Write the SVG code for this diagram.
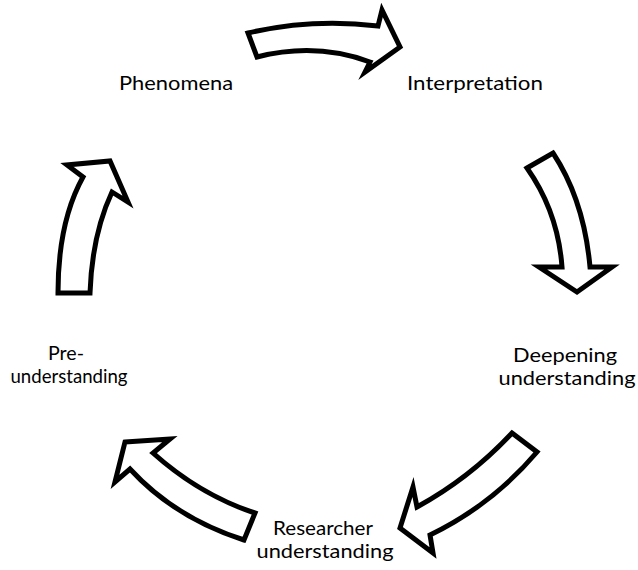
<svg xmlns="http://www.w3.org/2000/svg" width="638" height="570" viewBox="0 0 638 570">
  <style>
    .arrow { fill: #ffffff; stroke: #000000; stroke-width: 5; stroke-linejoin: miter; stroke-miterlimit: 10; }
    .label { font-family: Lato, "Open Sans", "Liberation Sans", sans-serif; font-size: 20px; fill: #000000; text-anchor: middle; }
  </style>
  <rect width="638" height="570" fill="#ffffff"/>

  <!-- curved block arrows forming the cycle -->
  <g id="connectors">
    <path id="arrow-top" class="arrow" d="M248,33 Q312,18 378,26 L382,10 L400,47 L365,72 L370,62 Q316,42 257,57 Z"/>
    <path id="arrow-right" class="arrow" d="M527,168 L553,153 Q584,200 590,267 L612,267 L577,292 L539,267 L562,267 Q558,212 527,168 Z"/>
    <path id="arrow-bottom-right" class="arrow" d="M512,433 L537,452 Q492,505 430,535 L433,553 L400,528 L413,487 L417,507 Q470,478 512,433 Z"/>
    <path id="arrow-bottom-left" class="arrow" d="M125,442 L170,439 L153,453 Q200,495 255,513 L244,540 Q175,518 130,469 L115,482 Z"/>
    <path id="arrow-left" class="arrow" d="M58,293 Q58,222 83,177 L67,165 L110,161 L128,202 L112,192 Q92,235 90,293 Z"/>
  </g>

  <g id="phenomena">
    <text class="label" x="176" y="90" textLength="114" lengthAdjust="spacingAndGlyphs">Phenomena</text>
  </g>
  <g id="interpretation">
    <text class="label" x="475" y="90" textLength="136" lengthAdjust="spacingAndGlyphs">Interpretation</text>
  </g>
  <g id="deepening-understanding">
    <text class="label" x="565" y="362" textLength="104" lengthAdjust="spacingAndGlyphs">Deepening</text>
    <text class="label" x="567" y="385" textLength="137" lengthAdjust="spacingAndGlyphs">understanding</text>
  </g>
  <g id="researcher-understanding">
    <text class="label" x="323" y="535" textLength="100" lengthAdjust="spacingAndGlyphs">Researcher</text>
    <text class="label" x="325" y="558" textLength="137" lengthAdjust="spacingAndGlyphs">understanding</text>
  </g>
  <g id="pre-understanding">
    <text class="label" x="66" y="360" textLength="36" lengthAdjust="spacingAndGlyphs">Pre-</text>
    <text class="label" x="69" y="383" textLength="117" lengthAdjust="spacingAndGlyphs">understanding</text>
  </g>
</svg>
